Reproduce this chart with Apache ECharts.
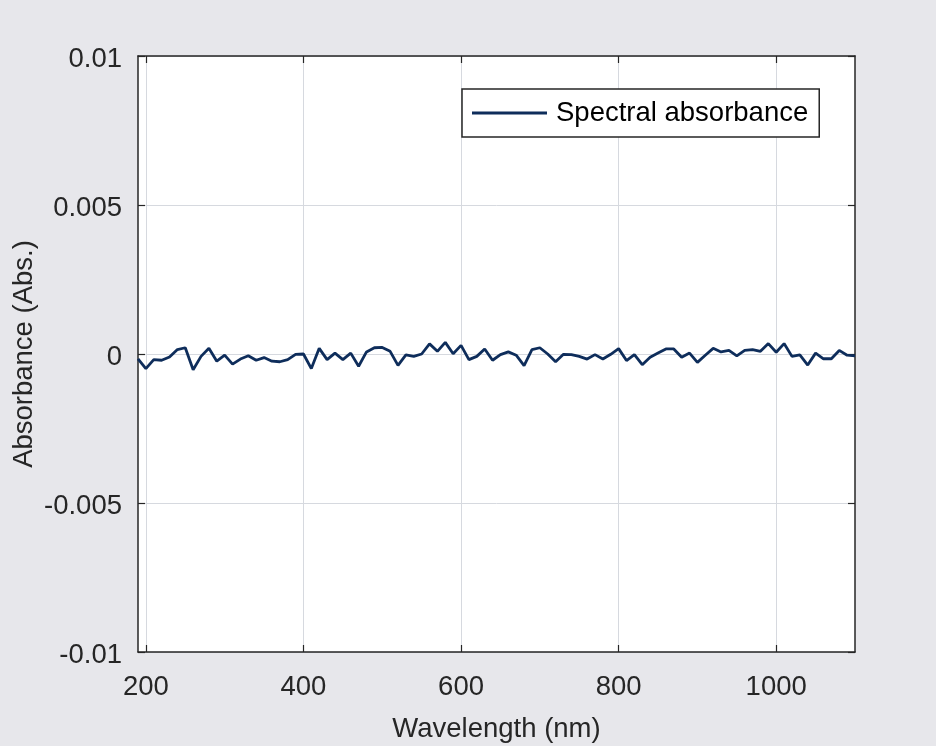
<!DOCTYPE html>
<html>
<head>
<meta charset="utf-8">
<script src="https://cdn.jsdelivr.net/npm/echarts@6/dist/echarts.min.js"></script>
<style>
html,body{margin:0;padding:0;background:#e7e7eb;}
#chart{width:936px;height:746px;}
</style>
</head>
<body>
<div id="chart"></div>
<script>
const wavelengths = [190,200,210,220,230,240,250,260,270,280,290,300,310,320,330,340,350,360,370,380,390,400,410,420,430,440,450,460,470,480,490,500,510,520,530,540,550,560,570,580,590,600,610,620,630,640,650,660,670,680,690,700,710,720,730,740,750,760,770,780,790,800,810,820,830,840,850,860,870,880,890,900,910,920,930,940,950,960,970,980,990,1000,1010,1020,1030,1040,1050,1060,1070,1080,1090,1100];
const absorbance = [-0.00016,-0.00049,-0.00019,-0.00021,-0.00010,0.00015,0.00021,-0.00053,-0.00008,0.00019,-0.00024,-0.00004,-0.00034,-0.00017,-0.00006,-0.00021,-0.00012,-0.00024,-0.00026,-0.00019,-0.00001,0.00000,-0.00049,0.00019,-0.00019,0.00003,-0.00019,0.00003,-0.00041,0.00007,0.00021,0.00022,0.00009,-0.00038,-0.00003,-0.00008,0.00000,0.00034,0.00009,0.00039,0.00001,0.00029,-0.00019,-0.00008,0.00017,-0.00021,-0.00002,0.00007,-0.00004,-0.00039,0.00015,0.00021,0.00000,-0.00026,-0.00001,-0.00002,-0.00008,-0.00017,-0.00002,-0.00017,-0.00001,0.00018,-0.00022,-0.00002,-0.00036,-0.00011,0.00003,0.00017,0.00017,-0.00011,0.00003,-0.00028,-0.00004,0.00019,0.00007,0.00012,-0.00006,0.00012,0.00015,0.00009,0.00035,0.00006,0.00035,-0.00008,-0.00003,-0.00037,0.00003,-0.00016,-0.00016,0.00012,-0.00004,-0.00006];
const xTicks = [200,400,600,800,1000];
const yTicks = [-0.01,-0.005,0,0.005,0.01];
const seriesName = 'Spectral absorbance';
const xTitle = 'Wavelength (nm)';
const yTitle = 'Absorbance (Abs.)';

const FONT = '"Liberation Sans", Arial, sans-serif';
const FS = 27.5;
const TXT = '#262626';
const AX = '#262626';
const GRIDC = '#d6d9df';

const chart = echarts.init(document.getElementById('chart'), null, {renderer:'canvas'});
const xBase = {
  type:'value', min:190, max:1100,
  axisLine:{show:true, onZero:false, lineStyle:{color:AX, width:1.5}},
  axisTick:{show:true, inside:true, length:7, customValues:xTicks, lineStyle:{color:AX, width:1.2}}
};
const yBase = {
  type:'value', min:-0.01, max:0.01, interval:0.005,
  axisLine:{show:true, onZero:false, lineStyle:{color:AX, width:1.5}},
  axisTick:{show:true, inside:true, length:7, lineStyle:{color:AX, width:1.2}}
};
chart.setOption({
  backgroundColor:'#e7e7eb',
  animation:false,
  grid:{left:138, right:81, top:56, bottom:94, show:true, backgroundColor:'#ffffff', borderWidth:0,
    containLabel:false, outerBoundsMode:'none'},
  legend:{
    show:true, left:462, top:89, orient:'horizontal',
    data:[{name:seriesName, icon:'rect'}],
    itemWidth:75, itemHeight:3,
    padding:[10,11,10,10],
    backgroundColor:'#ffffff', borderColor:AX, borderWidth:1.5, borderRadius:0,
    textStyle:{fontFamily:FONT, fontSize:FS, color:'#000000', padding:[0,0,0,4]}
  },
  xAxis:[
    Object.assign({}, xBase, {
      position:'bottom',
      name:xTitle, nameLocation:'middle', nameGap:63, nameMoveOverlap:false,
      nameTextStyle:{fontFamily:FONT, fontSize:FS, color:TXT},
      axisLabel:{show:true, customValues:xTicks, margin:21, fontFamily:FONT, fontSize:FS, color:TXT,
        formatter:function(v){ return String(v); }},
      splitLine:{show:true, lineStyle:{color:GRIDC, width:1}}
    }),
    Object.assign({}, xBase, {
      position:'top',
      axisLabel:{show:false},
      splitLine:{show:false}
    })
  ],
  yAxis:[
    Object.assign({}, yBase, {
      position:'left',
      name:yTitle, nameLocation:'middle', nameGap:100, nameMoveOverlap:false,
      nameTextStyle:{fontFamily:FONT, fontSize:FS, color:TXT},
      axisLabel:{show:true, margin:16, fontFamily:FONT, fontSize:FS, color:TXT,
        verticalAlign:'top', lineHeight:6,
        formatter:function(v){ return String(Math.round(v*1000)/1000); }},
      splitLine:{show:true, lineStyle:{color:GRIDC, width:1}}
    }),
    Object.assign({}, yBase, {
      position:'right',
      axisLabel:{show:false},
      splitLine:{show:false}
    })
  ],
  series:[{
    name:seriesName, type:'line',
    data:wavelengths.map((w,i)=>[w, absorbance[i]]),
    showSymbol:false, symbol:'none',
    lineStyle:{color:'#0e2d5b', width:2.8},
    itemStyle:{color:'#0e2d5b'},
    xAxisIndex:0, yAxisIndex:0
  }]
});
</script>
</body>
</html>
